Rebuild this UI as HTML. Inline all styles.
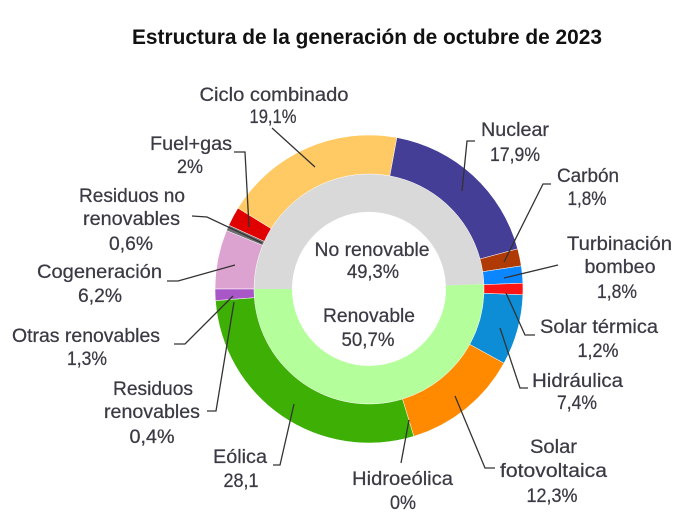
<!DOCTYPE html>
<html><head><meta charset="utf-8"><style>
html,body{margin:0;padding:0;background:#fff;}
svg{display:block;}
text{font-family:"Liberation Sans",sans-serif;}
.l{font-size:19.5px;fill:#3a3a44;stroke:#3a3a44;stroke-width:0.25;text-anchor:middle;}
.t{font-size:21px;font-weight:bold;fill:#111;text-anchor:middle;}
.ln{fill:none;stroke:#333;stroke-width:1.3;}
</style></head><body>
<svg width="684" height="520" viewBox="0 0 684 520" xmlns="http://www.w3.org/2000/svg">
<rect width="684" height="520" fill="#fff"/>
<text class="t" x="367" y="44" textLength="470" lengthAdjust="spacingAndGlyphs">Estructura de la generación de octubre de 2023</text>

<!-- inner ring -->
<path d="M254,289 A115,115 0 0 1 483.89,283.94 L445.93,285.61 A77,77 0 0 0 292,289 Z" fill="#d9d9d9"/>
<path d="M483.89,283.94 A115,115 0 1 1 254,289 L292,289 A77,77 0 1 0 445.93,285.61 Z" fill="#b4ff9c"/>

<!-- outer ring -->
<g stroke="#fff" stroke-width="0.5">
<path d="M215,289 A154,154 0 0 1 226.54,230.51 L262.62,245.32 A115,115 0 0 0 254,289 Z" fill="#dda3d0"/>
<path d="M226.54,230.51 A154,154 0 0 1 228.84,225.19 L264.34,241.35 A115,115 0 0 0 262.62,245.32 Z" fill="#6e6e6e"/>
<path d="M228.84,225.19 A154,154 0 0 1 237.95,208.12 L271.13,228.61 A115,115 0 0 0 264.34,241.35 Z" fill="#e00000"/>
<path d="M237.95,208.12 A154,154 0 0 1 396.91,137.55 L389.84,175.90 A115,115 0 0 0 271.13,228.61 Z" fill="#ffc964"/>
<path d="M396.91,137.55 A154,154 0 0 1 517.67,248.83 L480.02,259.00 A115,115 0 0 0 389.84,175.90 Z" fill="#453e97"/>
<path d="M517.67,248.83 A154,154 0 0 1 521.25,265.86 L482.69,271.72 A115,115 0 0 0 480.02,259.00 Z" fill="#b03a05"/>
<path d="M521.25,265.86 A154,154 0 0 1 522.89,283.20 L483.92,284.67 A115,115 0 0 0 482.69,271.72 Z" fill="#0c86ff"/>
<path d="M522.89,283.20 A154,154 0 0 1 522.89,294.80 L483.92,293.33 A115,115 0 0 0 483.92,284.67 Z" fill="#ff1515"/>
<path d="M522.89,294.80 A154,154 0 0 1 503.95,363.19 L469.78,344.40 A115,115 0 0 0 483.92,293.33 Z" fill="#0c8dd6"/>
<path d="M503.95,363.19 A154,154 0 0 1 413.82,436.33 L402.47,399.02 A115,115 0 0 0 469.78,344.40 Z" fill="#ff8a00"/>
<path d="M413.82,436.33 A154,154 0 0 1 215.44,300.60 L254.33,297.66 A115,115 0 0 0 402.47,399.02 Z" fill="#3daf05"/>
<path d="M215.44,300.60 A154,154 0 0 1 215,289 L254,289 A115,115 0 0 0 254.33,297.66 Z" fill="#a957c7"/>
</g>

<!-- leader lines -->
<polyline class="ln" points="272,128 315,167"/>
<polyline class="ln" points="234,152 245,152 249,227"/>
<polyline class="ln" points="192,216 207,217 262,243"/>
<polyline class="ln" points="167,281 178,281 235,265"/>
<polyline class="ln" points="174,344 185,344 233,296"/>
<polyline class="ln" points="207,411 216,411 234,302"/>
<polyline class="ln" points="273,465 280,465 294,404"/>
<polyline class="ln" points="409,420 401,463"/>
<polyline class="ln" points="455,396 485,468 495,468"/>
<polyline class="ln" points="500,328 520,388 528,388"/>
<polyline class="ln" points="506,293 525,335 535,335"/>
<polyline class="ln" points="504,278 558,265"/>
<polyline class="ln" points="504,262 543,184 551,184"/>
<polyline class="ln" points="462,191 467,141 475,141"/>

<!-- center labels -->
<text class="l" x="372" y="256" textLength="115" lengthAdjust="spacingAndGlyphs">No renovable</text>
<text class="l" x="373" y="278" textLength="52" lengthAdjust="spacingAndGlyphs">49,3%</text>
<text class="l" x="369" y="322" textLength="92" lengthAdjust="spacingAndGlyphs">Renovable</text>
<text class="l" x="368" y="346" textLength="53" lengthAdjust="spacingAndGlyphs">50,7%</text>

<!-- outer labels -->
<text class="l" x="274" y="101" textLength="149" lengthAdjust="spacingAndGlyphs">Ciclo combinado</text>
<text class="l" x="273" y="123" textLength="47" lengthAdjust="spacingAndGlyphs">19,1%</text>

<text class="l" x="191" y="150" textLength="82" lengthAdjust="spacingAndGlyphs">Fuel+gas</text>
<text class="l" x="190" y="173" textLength="26" lengthAdjust="spacingAndGlyphs">2%</text>

<text class="l" x="132" y="202" textLength="106" lengthAdjust="spacingAndGlyphs">Residuos no</text>
<text class="l" x="131.5" y="225" textLength="97" lengthAdjust="spacingAndGlyphs">renovables</text>
<text class="l" x="131" y="250" textLength="44" lengthAdjust="spacingAndGlyphs">0,6%</text>

<text class="l" x="99.5" y="278" textLength="125" lengthAdjust="spacingAndGlyphs">Cogeneración</text>
<text class="l" x="100" y="302" textLength="44" lengthAdjust="spacingAndGlyphs">6,2%</text>

<text class="l" x="86" y="342" textLength="148" lengthAdjust="spacingAndGlyphs">Otras renovables</text>
<text class="l" x="87" y="365" textLength="40" lengthAdjust="spacingAndGlyphs">1,3%</text>

<text class="l" x="153" y="395" textLength="80" lengthAdjust="spacingAndGlyphs">Residuos</text>
<text class="l" x="152" y="418" textLength="96" lengthAdjust="spacingAndGlyphs">renovables</text>
<text class="l" x="152" y="443" textLength="45" lengthAdjust="spacingAndGlyphs">0,4%</text>

<text class="l" x="240" y="463" textLength="54" lengthAdjust="spacingAndGlyphs">Eólica</text>
<text class="l" x="241" y="487" textLength="35" lengthAdjust="spacingAndGlyphs">28,1</text>

<text class="l" x="402.5" y="485" textLength="101" lengthAdjust="spacingAndGlyphs">Hidroeólica</text>
<text class="l" x="403" y="509" textLength="26" lengthAdjust="spacingAndGlyphs">0%</text>

<text class="l" x="553.5" y="453" textLength="47" lengthAdjust="spacingAndGlyphs">Solar</text>
<text class="l" x="553.5" y="477" textLength="107" lengthAdjust="spacingAndGlyphs">fotovoltaica</text>
<text class="l" x="552" y="502" textLength="51" lengthAdjust="spacingAndGlyphs">12,3%</text>

<text class="l" x="577.5" y="387" textLength="91" lengthAdjust="spacingAndGlyphs">Hidráulica</text>
<text class="l" x="577" y="409" textLength="40" lengthAdjust="spacingAndGlyphs">7,4%</text>

<text class="l" x="599" y="333" textLength="118" lengthAdjust="spacingAndGlyphs">Solar térmica</text>
<text class="l" x="598" y="357" textLength="41" lengthAdjust="spacingAndGlyphs">1,2%</text>

<text class="l" x="619.5" y="250" textLength="105" lengthAdjust="spacingAndGlyphs">Turbinación</text>
<text class="l" x="620" y="273" textLength="71" lengthAdjust="spacingAndGlyphs">bombeo</text>
<text class="l" x="617" y="298" textLength="40" lengthAdjust="spacingAndGlyphs">1,8%</text>

<text class="l" x="588" y="182" textLength="62" lengthAdjust="spacingAndGlyphs">Carbón</text>
<text class="l" x="587" y="205" textLength="39" lengthAdjust="spacingAndGlyphs">1,8%</text>

<text class="l" x="515" y="136" textLength="68" lengthAdjust="spacingAndGlyphs">Nuclear</text>
<text class="l" x="515" y="161" textLength="50" lengthAdjust="spacingAndGlyphs">17,9%</text>
</svg>
</body></html>
